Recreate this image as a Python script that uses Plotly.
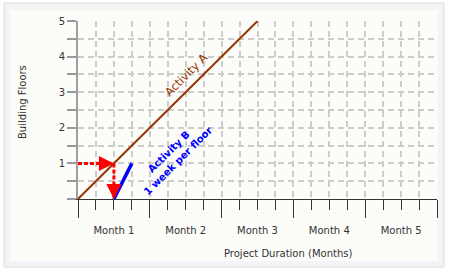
import plotly.graph_objects as go

# ---- data ----
activity_a_weeks = [0, 10]
activity_a_floors = [0, 5]
activity_b_weeks = [2, 3]
activity_b_floors = [0, 1]
arrow_h_weeks = [0, 2]
arrow_h_floors = [1, 1]
arrow_v_weeks = [2, 2]
arrow_v_floors = [1, 0]
month_centers = [2, 6, 10, 14, 18]
month_labels = ["Month 1", "Month 2", "Month 3", "Month 4", "Month 5"]
month_bounds = [0, 4, 8, 12, 16, 20]
floor_ticks = [0, 0.5, 1, 1.5, 2, 2.5, 3, 3.5, 4, 4.5, 5]
floor_labels = ["", "", "1", "", "2", "", "3", "", "4", "", "5"]

FONT = "DejaVu Sans, Verdana, sans-serif"
L, R, T, B = 78, 13, 21, 76
W, H = 450, 275
pw, ph = W - L - R, H - T - B

def px2x(px):
    return (px - L) / pw

def px2y(py):
    return (H - B - py) / ph

fig = go.Figure()

fig.add_trace(go.Scatter(x=activity_a_weeks, y=activity_a_floors, mode="lines",
                         line=dict(color="#993300", width=2), hoverinfo="skip"))
fig.add_trace(go.Scatter(x=activity_b_weeks, y=activity_b_floors, mode="lines",
                         line=dict(color="#0000ff", width=3.5), hoverinfo="skip"))
fig.add_trace(go.Scatter(x=arrow_h_weeks, y=arrow_h_floors, mode="lines",
                         line=dict(color="#ff0000", width=3, dash="4px,2px"), hoverinfo="skip"))
fig.add_trace(go.Scatter(x=arrow_v_weeks, y=arrow_v_floors, mode="lines",
                         line=dict(color="#ff0000", width=3, dash="4px,2px"), hoverinfo="skip"))

# arrowheads
fig.add_annotation(x=arrow_h_weeks[1], y=arrow_h_floors[1], ax=arrow_h_weeks[1] - 0.5, ay=arrow_h_floors[1],
                   xref="x", yref="y", axref="x", ayref="y", showarrow=True, text="",
                   arrowhead=2, arrowsize=1.0, arrowwidth=3, arrowcolor="#ff0000", standoff=0)
fig.add_annotation(x=arrow_v_weeks[1], y=arrow_v_floors[1], ax=arrow_v_weeks[1], ay=arrow_v_floors[1] + 0.25,
                   xref="x", yref="y", axref="x", ayref="y", showarrow=True, text="",
                   arrowhead=2, arrowsize=1.0, arrowwidth=3, arrowcolor="#ff0000", standoff=0)

# month labels on overlay axis
fig.add_trace(go.Scatter(x=[0, 20], y=[0, 0], xaxis="x2", mode="markers",
                         marker=dict(opacity=0), hoverinfo="skip"))

# text labels
fig.add_annotation(x=6.02, y=3.48, text="Activity A", showarrow=False, textangle=-45,
                   font=dict(family=FONT, size=11.5, color="#993300"))
fig.add_annotation(x=5.32, y=1.22, text="<b>Activity B</b><br><b>1 week per floor</b>", showarrow=False,
                   textangle=-45, font=dict(family=FONT, size=10, color="#0000ff"))
fig.add_annotation(x=px2x(288), y=px2y(253), xref="paper", yref="paper",
                   xanchor="center", yanchor="middle",
                   text="Project Duration (Months)", showarrow=False,
                   font=dict(family=FONT, size=10, color="#333333"))
fig.add_annotation(x=px2x(22), y=px2y(102), xref="paper", yref="paper",
                   xanchor="center", yanchor="middle",
                   text="Building Floors", showarrow=False, textangle=-90,
                   font=dict(family=FONT, size=10, color="#333333"))

# background panels
fig.add_shape(type="rect", xref="paper", yref="paper", layer="below",
              x0=px2x(4), x1=px2x(444), y0=px2y(267), y1=px2y(3),
              fillcolor="#f4f4f6", line=dict(color="#dcdcdc", width=1))
fig.add_shape(type="rect", xref="paper", yref="paper", layer="below",
              x0=px2x(10), x1=px2x(438), y0=px2y(261), y1=px2y(10),
              fillcolor="#fcfcf9", line=dict(width=0))

grid = dict(showgrid=True, gridcolor="#cccccc", gridwidth=1.5, griddash="6px,4px")

fig.update_layout(
    width=W, height=H,
    margin=dict(l=L, r=R, t=T, b=B),
    paper_bgcolor="white", plot_bgcolor="rgba(0,0,0,0)",
    showlegend=False,
    font=dict(family=FONT, size=10, color="#333333"),
    xaxis=dict(range=[0, 20], tickvals=month_bounds, ticks="outside", ticklen=18,
               tickcolor="#333333", tickwidth=1.2, showticklabels=False,
               showline=True, linecolor="#333333", linewidth=1.2, zeroline=False,
               minor=dict(dtick=1, tick0=0, ticks="outside", ticklen=10, tickcolor="#333333",
                          tickwidth=1.2, **grid),
               **grid, fixedrange=True),
    xaxis2=dict(range=[0, 20], overlaying="x", anchor="y", side="bottom",
                tickvals=month_centers, ticktext=month_labels, ticks="outside", ticklen=22,
                tickcolor="rgba(0,0,0,0)", showgrid=False, zeroline=False, showline=False,
                tickfont=dict(family=FONT, size=10, color="#333333")),
    yaxis=dict(range=[0, 5], tickvals=floor_ticks, ticktext=floor_labels, ticks="outside",
               ticklen=9, tickcolor="#999999", tickwidth=1.5,
               showline=True, linecolor="#a0a0a0", linewidth=2, zeroline=False,
               tickfont=dict(family=FONT, size=10, color="#333333"),
               **grid, fixedrange=True),
)

fig.write_html("out.html")
